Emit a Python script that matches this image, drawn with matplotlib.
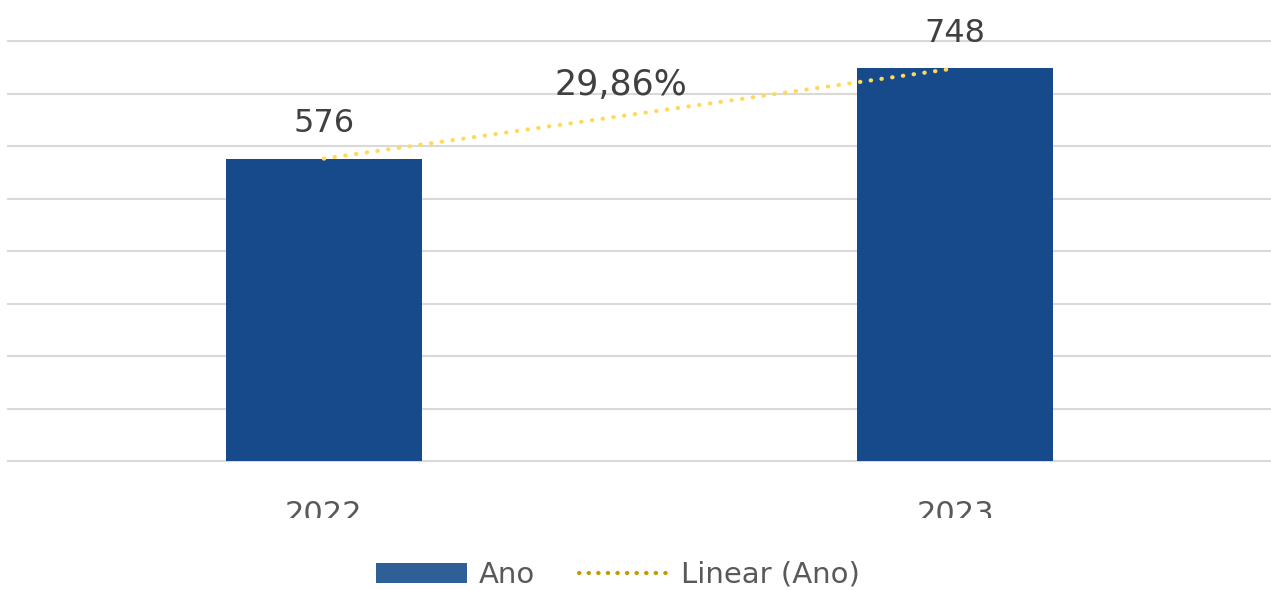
import matplotlib
matplotlib.use("Agg")
import matplotlib.pyplot as plt
from matplotlib.patches import Patch
from matplotlib.lines import Line2D
from matplotlib.transforms import Bbox

years = ["2022", "2023"]
values = [576, 748]
growth_label = "29,86%"

plt.rcParams['font.family'] = ['DejaVu Sans']

fig = plt.figure(figsize=(12.71, 5.90), dpi=100)
ax = fig.add_axes([8 / 1271, 129 / 590, 1263 / 1271, 420 / 590])

x = list(range(len(years)))
ax.bar(x, values, width=0.31, color='#174A8B', zorder=2)

# linha de tendência entre os dois anos
ax.plot(x, values, color='#FFD95A', linewidth=3, linestyle=(0, (0.1, 2.5)),
        dash_capstyle='round', zorder=3)

for xi, v in zip(x, values):
    ax.annotate(str(v), (xi, v), xytext=(0, 19), textcoords='offset points',
                ha='center', va='baseline', fontsize=23, color='#404040')

ax.text(0.47, 697, growth_label, ha='center', va='baseline', fontsize=25, color='#404040')

ax.set_xlim(-0.5, 1.5)
ax.set_ylim(0, 800)
ax.set_yticks(range(0, 801, 100))
ax.yaxis.grid(True, color='#D9D9D9', linewidth=1.5, zorder=0)
for gl in ax.get_ygridlines():
    gl.set_clip_on(False)
ax.set_axisbelow(True)
ax.set_yticklabels([])
ax.tick_params(axis='y', length=0)
ax.set_xticks(x)
ax.set_xticklabels(years, fontsize=22, color='#595959')
ax.tick_params(axis='x', length=0, pad=28)
for s in ax.spines.values():
    s.set_visible(False)

# rótulos do eixo cortados na parte de baixo, como no original
clip = Bbox.from_extents(0, 72, 1271, 590)
for lbl in ax.get_xticklabels():
    lbl.set_clip_box(clip)
    lbl.set_clip_on(True)

handles = [Patch(facecolor='#2E5F96', label='Ano'),
           Line2D([0], [0], color='#C49A00', linewidth=3, linestyle=(0, (0.1, 2.2)),
                  dash_capstyle='round', label='Linear (Ano)')]
fig.legend(handles=handles, loc='center', bbox_to_anchor=(618 / 1271, 15 / 590),
           ncol=2, frameon=False, fontsize=21, handlelength=3.1, handleheight=0.7,
           handletextpad=0.4, columnspacing=1.5, labelcolor='#595959')

fig.savefig('out.png', dpi=100)
